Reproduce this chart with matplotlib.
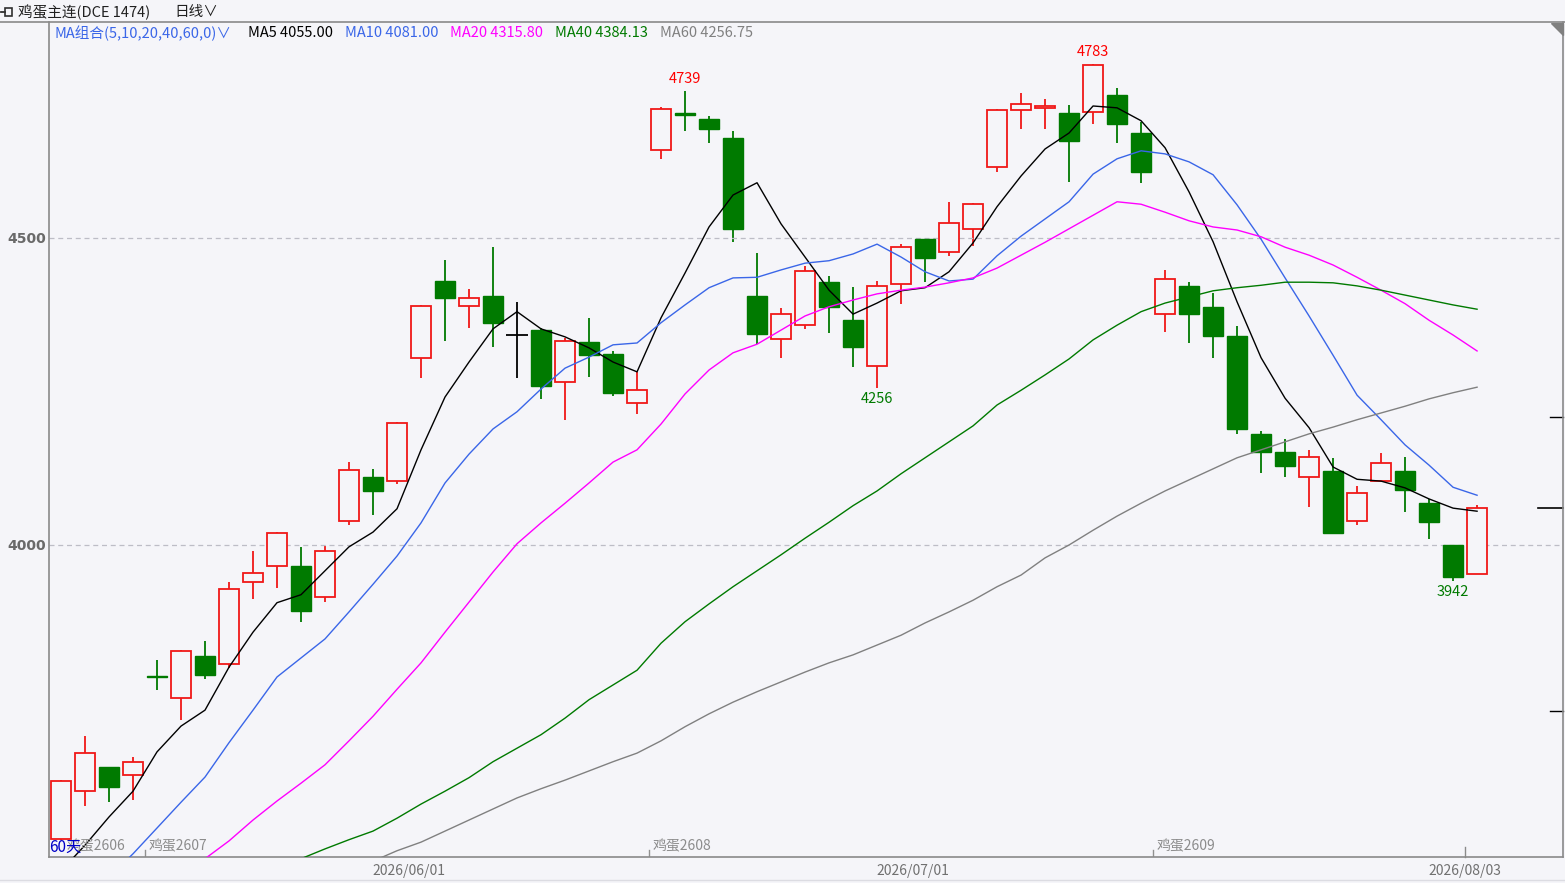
import numpy as np
import matplotlib.pyplot as plt
from matplotlib.lines import Line2D
from matplotlib.patches import Polygon

plt.rcParams['font.family'] = ['Noto Sans CJK SC', 'DejaVu Sans']

# 鸡蛋主连 日线, 60 根K线
opens = [3521, 3599, 3638, 3625, 3786, 3750, 3819, 3806, 3939, 3965,
         3966, 3916, 4039, 4111, 4104, 4304, 4430, 4390, 4406, 4342,
         4350, 4265, 4331, 4311, 4232, 4643, 4703, 4694, 4663, 4406,
         4335, 4359, 4428, 4366, 4291, 4425, 4498, 4478, 4514, 4615,
         4708, 4711, 4704, 4705, 4733, 4671, 4376, 4422, 4388, 4340,
         4181, 4151, 4110, 4121, 4039, 4104, 4121, 4068, 4000, 3953]
highs = [3617, 3689, 3638, 3655, 3813, 3829, 3844, 3940, 3991, 4021,
         3996, 3999, 4135, 4124, 4200, 4391, 4464, 4417, 4485, 4396,
         4354, 4337, 4370, 4316, 4281, 4713, 4739, 4699, 4674, 4476,
         4386, 4454, 4438, 4420, 4430, 4490, 4499, 4559, 4557, 4710,
         4736, 4726, 4717, 4783, 4744, 4689, 4448, 4428, 4410, 4357,
         4186, 4173, 4155, 4141, 4096, 4150, 4143, 4075, 4000, 4065]
lows = [3519, 3575, 3582, 3585, 3763, 3715, 3781, 3800, 3912, 3930,
        3875, 3907, 4033, 4049, 4099, 4272, 4333, 4354, 4323, 4272,
        4237, 4204, 4274, 4243, 4214, 4629, 4675, 4655, 4494, 4327,
        4305, 4352, 4346, 4290, 4256, 4393, 4429, 4470, 4487, 4607,
        4678, 4678, 4592, 4685, 4655, 4590, 4347, 4329, 4305, 4180,
        4118, 4111, 4062, 4019, 4033, 4103, 4054, 4010, 3942, 3953]
closes = [3616, 3662, 3605, 3646, 3785, 3828, 3788, 3929, 3954, 4019,
          3893, 3990, 4122, 4088, 4198, 4390, 4403, 4402, 4362, 4342,
          4259, 4333, 4310, 4248, 4252, 4710, 4700, 4678, 4514, 4344,
          4377, 4446, 4388, 4323, 4421, 4485, 4468, 4524, 4555, 4708,
          4719, 4715, 4658, 4781, 4685, 4608, 4433, 4377, 4341, 4189,
          4152, 4129, 4143, 4020, 4084, 4133, 4090, 4038, 3948, 4060]

ma5 = [3469, 3511, 3557, 3599, 3663, 3705, 3731, 3801, 3858, 3906,
       3919, 3958, 3997, 4021, 4059, 4155, 4241, 4298, 4352, 4380,
       4352, 4339, 4321, 4298, 4282, 4370, 4443, 4518, 4570, 4590,
       4523, 4469, 4415, 4376, 4394, 4414, 4419, 4445, 4492, 4551,
       4601, 4645, 4671, 4715, 4712, 4691, 4647, 4575, 4494, 4396,
       4305, 4239, 4191, 4127, 4107, 4104, 4093, 4075, 4060, 4055]
ma10 = [np.nan, np.nan,
        3459, 3497, 3539, 3581, 3622, 3678, 3731, 3785,
        3816, 3847, 3891, 3936, 3982, 4036, 4101, 4148, 4189, 4217,
        4254, 4288, 4306, 4326, 4329, 4362, 4391, 4419, 4435, 4436,
        4448, 4459, 4463, 4474, 4490, 4469, 4445, 4430, 4433, 4471,
        4503, 4531, 4559, 4604, 4629, 4642, 4637, 4624, 4603, 4554,
        4498, 4435, 4373, 4309, 4244, 4204, 4163, 4130, 4094, 4081]
ma20 = [np.nan] * 6 + [
        3489, 3518, 3552, 3583, 3612, 3642, 3681, 3721, 3765, 3808,
        3858, 3907, 3956, 4002, 4036, 4068, 4101, 4135, 4155, 4197,
        4246, 4285, 4313, 4327, 4350, 4373, 4388, 4399, 4409, 4415,
        4420, 4427, 4435, 4451, 4472, 4493, 4515, 4537, 4559, 4555,
        4542, 4528, 4518, 4513, 4502, 4485, 4472, 4456, 4436, 4415,
        4393, 4366, 4342, 4316]
ma40 = [np.nan] * 10 + [
        3489, 3505, 3520, 3534, 3555, 3578, 3599, 3621, 3647, 3669,
        3691, 3718, 3748, 3772, 3796, 3840, 3875, 3904, 3932, 3958,
        3984, 4011, 4037, 4064, 4088, 4116, 4142, 4168, 4194, 4228,
        4252, 4277, 4303, 4334, 4358, 4380, 4394, 4404, 4414, 4419,
        4423, 4428, 4428, 4427, 4422, 4415, 4407, 4399, 4391, 4384]
ma60 = [np.nan] * 13 + [
        3485, 3502, 3516, 3534, 3552, 3570, 3588, 3603, 3617, 3632,
        3647, 3661, 3681, 3704, 3725, 3744, 3761, 3777, 3793, 3808,
        3821, 3837, 3853, 3873, 3891, 3910, 3932, 3951, 3979, 4000,
        4024, 4047, 4068, 4088, 4106, 4124, 4142, 4155, 4168, 4181,
        4192, 4204, 4215, 4226, 4238, 4248, 4257]

ma_names = ['MA5', 'MA10', 'MA20', 'MA40', 'MA60']
ma_last = ['4055.00', '4081.00', '4315.80', '4384.13', '4256.75']

date_pos = [14.5, 35.5, 58.5]
date_labels = ['2026/06/01', '2026/07/01', '2026/08/03']
contract_pos = [0.1, 3.5, 24.5, 45.5]
contract_labels = ['鸡蛋2606', '鸡蛋2607', '鸡蛋2608', '鸡蛋2609']

BG = '#F5F5F9'
RED = '#F01818'
GREEN = '#007A00'
MA_COLORS = ['#000000', '#3A66E8', '#FF00FF', '#007A00', '#808080']
AXC = '#8A8A8A'

W, H = 1565, 883
fig = plt.figure(figsize=(W / 100, H / 100), dpi=100, facecolor=BG)
ax = fig.add_axes([49 / W, 1 - 857 / H, (1563 - 49) / W, (857 - 22) / H])
ax.set_facecolor(BG)

o = np.array(opens, float)
c = np.array(closes, float)
hi = np.array(highs, float)
lo = np.array(lows, float)
idx = np.arange(len(c))
up = c > o
dn = c < o
flat = c == o
cols = np.where(up, RED, np.where(dn, GREEN, '#000000'))

ax.vlines(idx, lo, hi, colors=cols, lw=1.3, zorder=1)
bot = np.minimum(o, c)
hgt = np.maximum(np.abs(c - o), 1.0)
ax.bar(idx[up], hgt[up], bottom=bot[up], width=0.86, facecolor=BG,
       edgecolor=RED, lw=1.3, zorder=2)
ax.bar(idx[dn], hgt[dn], bottom=bot[dn], width=0.86, facecolor=GREEN,
       edgecolor=GREEN, lw=1.0, zorder=2)
ax.hlines(c[flat], idx[flat] - 0.45, idx[flat] + 0.45, colors='#000000',
          lw=1.3, zorder=2)

for vals, col in zip([ma5, ma10, ma20, ma40, ma60], MA_COLORS):
    ax.plot(idx, vals, color=col, lw=1.0, zorder=3)

# 最高/最低价标注
ax.annotate('4739', (26, 4739), xytext=(0, 4), textcoords='offset points',
            ha='center', va='bottom', color='red', fontsize=10.5)
ax.annotate('4783', (43, 4783), xytext=(0, 4), textcoords='offset points',
            ha='center', va='bottom', color='red', fontsize=10.5)
ax.annotate('4256', (34, 4256), xytext=(0, -3), textcoords='offset points',
            ha='center', va='top', color=GREEN, fontsize=10.5)
ax.annotate('3942', (58, 3942), xytext=(0, -3), textcoords='offset points',
            ha='center', va='top', color=GREEN, fontsize=10.5)

ax.set_xlim(-0.5, 62.58)
ax.set_ylim(3491.8, 4851.8)

ax.set_yticks([4000, 4500])
ax.set_yticklabels(['4000', '4500'], fontsize=10, color='#6A6A6A',
                   fontweight='bold', family='DejaVu Sans')
ax.tick_params(axis='y', length=0, pad=2)
ax.grid(axis='y', color='#BDBDC6', lw=0.9, ls=(0, (4, 3)))
ax.set_xticks(date_pos)
ax.set_xticklabels(date_labels, fontsize=10, color='#707070')
ax.tick_params(axis='x', length=0, pad=5)

for side in ['left', 'right', 'bottom']:
    ax.spines[side].set_color(AXC)
    ax.spines[side].set_linewidth(1.2)
ax.spines['top'].set_visible(False)

xt = ax.get_xaxis_transform()
yt = ax.get_yaxis_transform()
ax.plot([58.5, 58.5], [0, 0.012], color=AXC, lw=1, transform=xt, clip_on=False)
for p, lab in zip(contract_pos, contract_labels):
    if p > 1:
        ax.plot([p, p], [0.001, 0.008], color='#909090', lw=1, transform=xt)
    ax.text(p + 0.15, 0.004, lab, transform=xt, fontsize=10, color='#8C8C8C',
            ha='left', va='bottom')

# 右侧刻度与最新价
ax.plot([0.9835, 1.0], [closes[-1], closes[-1]], color='black', lw=1.2,
        transform=yt, clip_on=False)
for yv in [4208, 3730]:
    ax.plot([0.9915, 1.0], [yv, yv], color='black', lw=1.0, transform=yt,
            clip_on=False)

# 顶部栏
fig.add_artist(Line2D([0, 1], [1 - 22 / H, 1 - 22 / H], color=AXC, lw=1.2))
fig.add_artist(Line2D([0, 1], [1 - 880 / H, 1 - 880 / H], color='#DCDCE2', lw=1))
fig.add_artist(Line2D([1 / W, 5 / W], [1 - 12 / H, 1 - 12 / H], color='#303030', lw=1.3))
fig.add_artist(Polygon([[5 / W, 1 - 8 / H], [12 / W, 1 - 8 / H], [12 / W, 1 - 16 / H],
                        [5 / W, 1 - 16 / H]], closed=True, fill=False,
                       edgecolor='#303030', lw=1.2))
fig.add_artist(Polygon([[1551 / W, 1 - 23 / H], [1563 / W, 1 - 23 / H],
                        [1563 / W, 1 - 35 / H]], closed=True, color='#808080'))

fig.text(18 / W, 1 - 12 / H, '鸡蛋主连(DCE 1474)', fontsize=10.5,
         color='#202020', va='center', ha='left')
fig.text(174 / W, 1 - 12 / H, '日线∨', fontsize=10.5, color='#202020',
         va='center', ha='left')

fig.text(55 / W, 1 - 33 / H, 'MA组合(5,10,20,40,60,0)∨', fontsize=10.5,
         color=MA_COLORS[1], va='center', ha='left')
leg_x = [248, 345, 450, 555, 660]
for lx, name, val, col in zip(leg_x, ma_names, ma_last, MA_COLORS):
    fig.text(lx / W, 1 - 33 / H, f'{name} {val}', fontsize=10.5, color=col,
             va='center', ha='left')

fig.text(49 / W, 1 - 847 / H, '60天', fontsize=11, color='#0000C8',
         va='center', ha='left')

fig.savefig('out.png', dpi=100, facecolor=BG)
